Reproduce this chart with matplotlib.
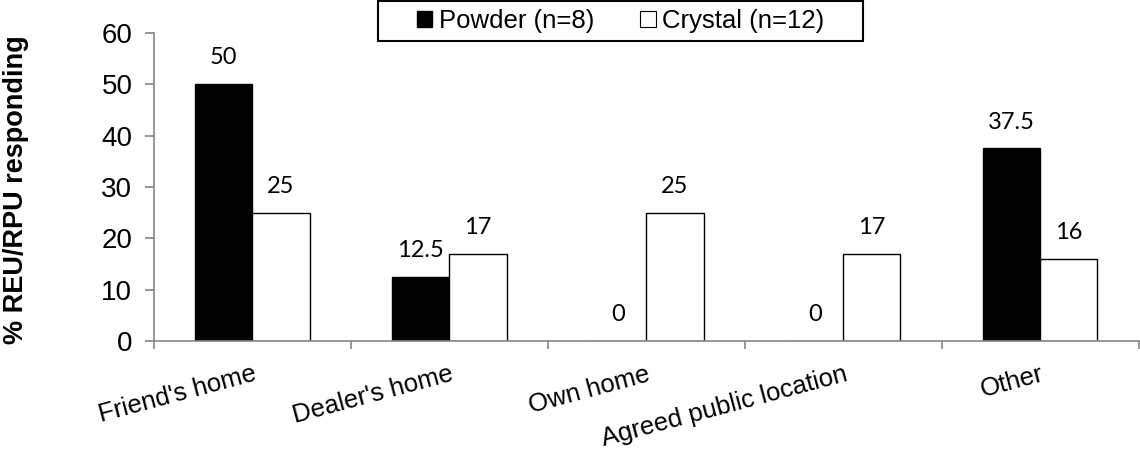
import matplotlib.pyplot as plt
from matplotlib.patches import Patch, Rectangle
import numpy as np

# Data
categories = ["Friend's home", "Dealer's home", "Own home", "Agreed public location", "Other"]
powder = [50, 12.5, 0, 0, 37.5]
crystal = [25, 17, 25, 17, 16]
powder_labels = ["50", "12.5", "0", "0", "37.5"]
crystal_labels = ["25", "17", "25", "17", "16"]

GRAY = "#868686"
BAR_W = 0.29

plt.rcParams['font.family'] = ['Liberation Sans', 'DejaVu Sans']

fig = plt.figure(figsize=(11.4, 4.5), dpi=100)
ax = fig.add_axes([0.135, 0.242, 0.864, 0.685])

centers = np.arange(len(categories)) + 0.5
ax.bar(centers - BAR_W / 2, powder, BAR_W, color="black", edgecolor="black", linewidth=1)
ax.bar(centers + BAR_W / 2, crystal, BAR_W, color="white", edgecolor="black", linewidth=1)

for x, v, t in zip(centers - BAR_W / 2, powder, powder_labels):
    ax.annotate(t, (x, v), xytext=(0, 19), textcoords="offset points",
                ha="center", va="center", fontsize=17, family="Lato")
for x, v, t in zip(centers + BAR_W / 2, crystal, crystal_labels):
    ax.annotate(t, (x, v), xytext=(0, 19), textcoords="offset points",
                ha="center", va="center", fontsize=17, family="Lato")

ax.set_xlim(0, len(categories))
ax.set_ylim(0, 60)
ax.set_yticks(range(0, 61, 10))
ax.set_xticks(range(len(categories) + 1))
ax.set_xticklabels([])
ax.set_xticks(centers, minor=True)
ax.set_xticklabels(categories, minor=True, rotation=15, ha="right",
                   rotation_mode="anchor", va="top", fontsize=18.5)
ax.tick_params(axis="x", which="minor", length=0, pad=15)
ax.tick_params(axis="x", which="major", length=6, color=GRAY, width=1.2)
ax.tick_params(axis="y", length=6.5, color=GRAY, width=1.2, labelsize=20, pad=9)

for s in ["top", "right"]:
    ax.spines[s].set_visible(False)
for s in ["left", "bottom"]:
    ax.spines[s].set_color(GRAY)
    ax.spines[s].set_linewidth(1.2)

ax.set_ylabel("% REU/RPU responding", fontsize=19.5, fontweight="bold")
ax.yaxis.set_label_coords(-0.127, 0.49)

# legend frame drawn separately so it can be wider than the entries
fig.patches.append(Rectangle((378 / 1140, 1 - 41 / 450), 485 / 1140, 40 / 450,
                             transform=fig.transFigure, facecolor="white",
                             edgecolor="black", linewidth=1.5, zorder=0))
handles = [Patch(facecolor="black", edgecolor="black", label="Powder (n=8)"),
           Patch(facecolor="white", edgecolor="black", linewidth=0.8, label="Crystal (n=12)")]
fig.legend(handles=handles, loc="center", bbox_to_anchor=(620.5 / 1140, 1 - 21 / 450),
           ncol=2, fontsize=18.5, frameon=False,
           handlelength=0.6, handleheight=0.6, handletextpad=0.25,
           columnspacing=1.8, borderpad=0.1)

fig.savefig("out.png", dpi=100)
